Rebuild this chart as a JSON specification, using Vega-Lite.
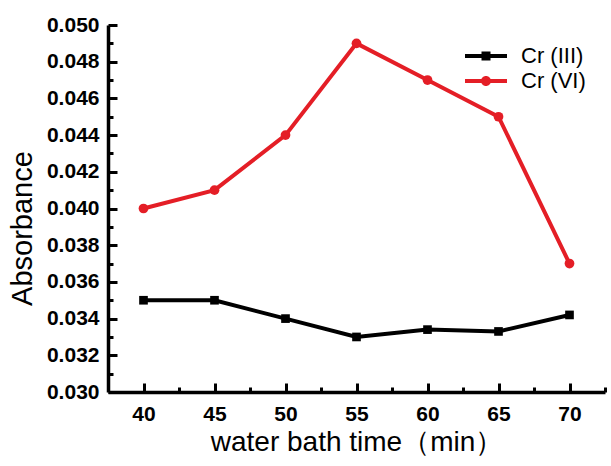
{
  "$schema": "https://vega.github.io/schema/vega-lite/v6.json",
  "width": 497,
  "height": 367,
  "autosize": {"type": "none"},
  "padding": {"left": 108, "top": 25, "right": 6, "bottom": 74},
  "background": "white",
  "config": {
    "view": {"stroke": null},
    "font": "Liberation Sans",
    "axis": {"ticks": true, "tickColor": "black", "tickOpacity": 1}
  },
  "data": {
    "values": [
      {"time": 40, "series": "Cr (III)", "abs": 0.0350},
      {"time": 45, "series": "Cr (III)", "abs": 0.0350},
      {"time": 50, "series": "Cr (III)", "abs": 0.0340},
      {"time": 55, "series": "Cr (III)", "abs": 0.0330},
      {"time": 60, "series": "Cr (III)", "abs": 0.0334},
      {"time": 65, "series": "Cr (III)", "abs": 0.0333},
      {"time": 70, "series": "Cr (III)", "abs": 0.0342},
      {"time": 40, "series": "Cr (VI)", "abs": 0.0400},
      {"time": 45, "series": "Cr (VI)", "abs": 0.0410},
      {"time": 50, "series": "Cr (VI)", "abs": 0.0440},
      {"time": 55, "series": "Cr (VI)", "abs": 0.0490},
      {"time": 60, "series": "Cr (VI)", "abs": 0.0470},
      {"time": 65, "series": "Cr (VI)", "abs": 0.0450},
      {"time": 70, "series": "Cr (VI)", "abs": 0.0370}
    ]
  },
  "resolve": {"axis": {"x": "independent", "y": "independent"}},
  "layer": [
    {
      "mark": {"type": "line", "strokeWidth": 4},
      "encoding": {
        "x": {
          "field": "time",
          "type": "quantitative",
          "scale": {"domain": [37.5, 72.5], "nice": false, "zero": false},
          "axis": {
            "orient": "bottom",
            "title": "water bath time（min）",
            "values": [40, 45, 50, 55, 60, 65, 70],
            "grid": false,
            "ticks": false,
            "domainColor": "black",
            "domainWidth": 3.5,
            "labelFont": "Liberation Sans",
            "labelFontWeight": "bold",
            "labelFontSize": 21,
            "labelColor": "black",
            "labelPadding": 11,
            "titleFont": "Liberation Sans",
            "titleFontWeight": "normal",
            "titleFontSize": 28,
            "titleColor": "black",
            "titlePadding": 4
          }
        },
        "y": {
          "field": "abs",
          "type": "quantitative",
          "scale": {"domain": [0.030, 0.050], "nice": false, "zero": false},
          "axis": {
            "orient": "left",
            "title": "Absorbance",
            "values": [0.030, 0.032, 0.034, 0.036, 0.038, 0.040, 0.042, 0.044, 0.046, 0.048, 0.050],
            "format": ".3f",
            "grid": false,
            "ticks": false,
            "domainColor": "black",
            "domainWidth": 3.5,
            "labelFont": "Liberation Sans",
            "labelFontWeight": "bold",
            "labelFontSize": 21,
            "labelColor": "black",
            "labelPadding": 9,
            "titleFont": "Liberation Sans",
            "titleFontWeight": "normal",
            "titleFontSize": 29,
            "titleColor": "black",
            "titleX": -77,
            "titleY": 203,
            "titleBaseline": "alphabetic"
          }
        },
        "color": {
          "field": "series",
          "type": "nominal",
          "scale": {"domain": ["Cr (III)", "Cr (VI)"], "range": ["#000000", "#e41e26"]},
          "legend": {
            "title": null,
            "orient": "none",
            "legendX": 367,
            "legendY": 20,
            "padding": 0,
            "symbolSize": 100,
            "symbolStrokeWidth": 0,
            "labelOffset": 24,
            "labelFont": "Liberation Sans",
            "labelFontSize": 22,
            "labelColor": "black",
            "rowPadding": 3,
            "encode": {
              "symbols": {
                "update": {
                  "shape": {"signal": "datum.value === 'Cr (III)' ? 'M-4.2,-0.4L4.2,-0.4L4.2,0.4L-4.2,0.4Z M-0.9,-0.9L0.9,-0.9L0.9,0.9L-0.9,0.9Z' : 'M-4.2,-0.4L4.2,-0.4L4.2,0.4L-4.2,0.4Z M-1,0A1,1 0 1,1 1,0A1,1 0 1,1 -1,0Z'"},
                  "fill": {"signal": "datum.value === 'Cr (III)' ? '#000000' : '#e41e26'"},
                  "opacity": {"value": 1},
                  "strokeWidth": {"value": 0}
                }
              }
            }
          }
        }
      }
    },
    {
      "transform": [{"filter": "datum.series === 'Cr (III)'"}],
      "mark": {"type": "point", "shape": "square", "filled": true, "opacity": 1, "size": 75},
      "encoding": {
        "x": {
          "field": "time",
          "type": "quantitative",
          "axis": {
            "orient": "bottom",
            "title": null,
            "values": [40, 45, 50, 55, 60, 65, 70],
            "labels": false,
            "domain": false,
            "grid": false,
            "ticks": true,
            "tickWidth": 3,
            "tickSize": 9,
            "offset": -9
          }
        },
        "y": {
          "field": "abs",
          "type": "quantitative",
          "axis": {
            "orient": "left",
            "title": null,
            "values": [0.030, 0.032, 0.034, 0.036, 0.038, 0.040, 0.042, 0.044, 0.046, 0.048, 0.050],
            "labels": false,
            "domain": false,
            "grid": false,
            "ticks": true,
            "tickWidth": 3,
            "tickSize": 9,
            "offset": -9
          }
        },
        "color": {"field": "series", "type": "nominal"}
      }
    },
    {
      "transform": [{"filter": "datum.series === 'Cr (VI)'"}],
      "mark": {"type": "point", "shape": "circle", "filled": true, "opacity": 1, "size": 95},
      "encoding": {
        "x": {
          "field": "time",
          "type": "quantitative",
          "axis": {
            "orient": "bottom",
            "title": null,
            "values": [42.5, 47.5, 52.5, 57.5, 62.5, 67.5, 72.5],
            "labels": false,
            "domain": false,
            "grid": false,
            "ticks": true,
            "tickWidth": 3,
            "tickSize": 5,
            "offset": -5
          }
        },
        "y": {
          "field": "abs",
          "type": "quantitative",
          "axis": {
            "orient": "left",
            "title": null,
            "values": [0.031, 0.033, 0.035, 0.037, 0.039, 0.041, 0.043, 0.045, 0.047, 0.049],
            "labels": false,
            "domain": false,
            "grid": false,
            "ticks": true,
            "tickWidth": 3,
            "tickSize": 5,
            "offset": -5
          }
        },
        "color": {"field": "series", "type": "nominal"}
      }
    }
  ]
}
